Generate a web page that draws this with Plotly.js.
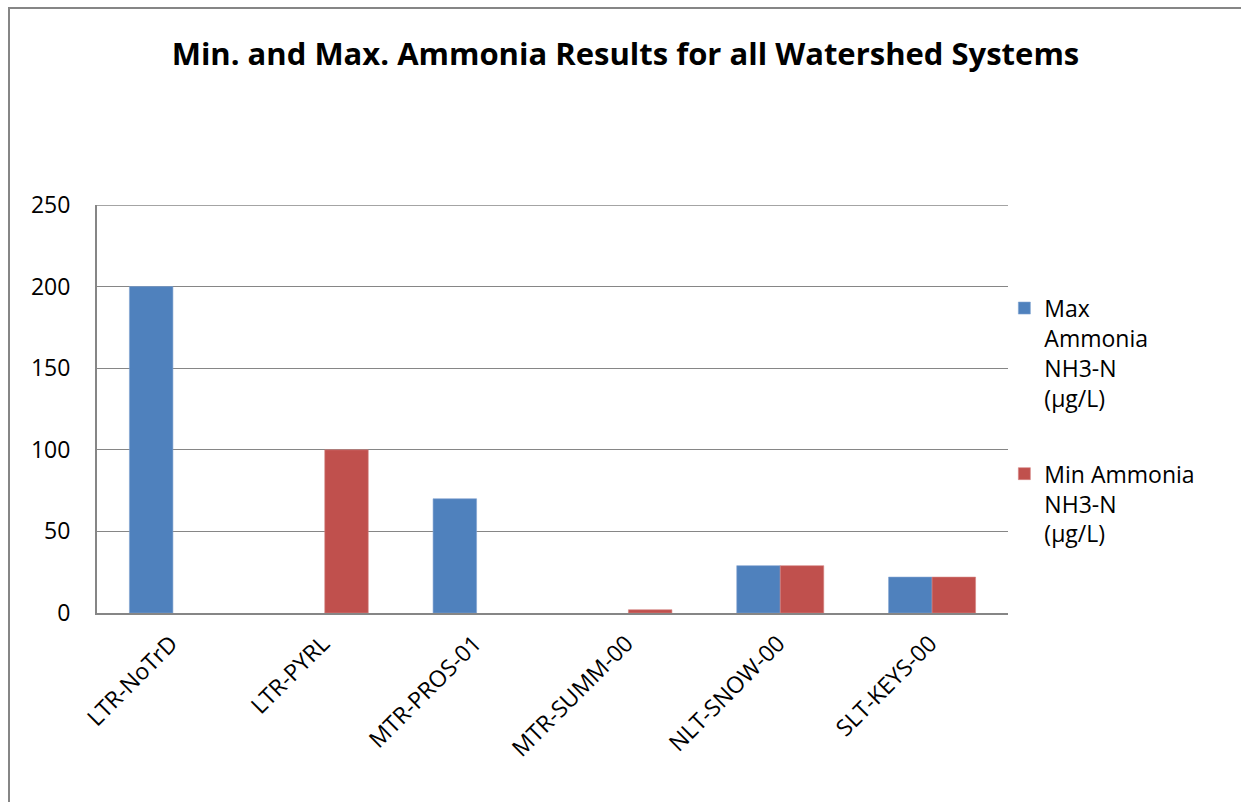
<!DOCTYPE html>
<html>
<head>
<meta charset="utf-8">
<script src="https://cdn.plot.ly/plotly-3.0.1.min.js"></script>
<style>
html,body{margin:0;padding:0;background:#fff;overflow:hidden;}
#wrap{position:relative;width:1241px;height:802px;overflow:hidden;}
#chart{width:1241px;height:802px;}
#frame{position:absolute;left:8px;top:7px;width:1400px;height:1000px;border-top:2px solid #868686;border-left:2px solid #868686;pointer-events:none;}
</style>
</head>
<body>
<div id="wrap">
<div id="chart"></div>
<div id="frame"></div>
</div>
<script>
const categories = ["LTR-NoTrD", "LTR-PYRL", "MTR-PROS-01", "MTR-SUMM-00", "NLT-SNOW-00", "SLT-KEYS-00"];
const maxAmmonia = [200, null, 70, null, 29, 22];
const minAmmonia = [null, 100, null, 2, 29, 22];
const seriesNames = ["Max<br>Ammonia<br>NH3-N<br>(µg/L)", "Min Ammonia<br>NH3-N<br>(µg/L)"];
const yTicks = [0, 50, 100, 150, 200, 250];

const font = "Open Sans, Noto Sans, sans-serif";

const traces = [
  {type: "bar", x: categories, y: maxAmmonia, name: seriesNames[0], legendgroup: "a",
   marker: {color: "#4F81BD", line: {color: "#7FA3D0", width: 0.6}}},
  {type: "bar", x: categories, y: minAmmonia, name: seriesNames[1], legendgroup: "b",
   marker: {color: "#C0504D", line: {color: "#D58583", width: 0.6}}}
];

const layout = {
  width: 1241, height: 802,
  margin: {l: 97, r: 233, t: 205, b: 189, pad: 0},
  paper_bgcolor: "#ffffff", plot_bgcolor: "#ffffff",
  font: {family: font, color: "#000000", size: 22},
  title: {text: "<b>Min. and Max. Ammonia Results for all Watershed Systems</b>",
          font: {family: font, size: 31, color: "#000000"},
          x: 0.504, xref: "container", xanchor: "center",
          y: 0.933, yref: "container", yanchor: "middle"},
  barmode: "group", bargap: 0.427, bargroupgap: 0,
  showlegend: true,
  legend: {x: 0.996, xanchor: "left", y: 0.80, yanchor: "top",
           valign: "top", traceorder: "grouped", tracegroupgap: 43,
           font: {family: font, size: 23, color: "#000000"},
           bgcolor: "rgba(0,0,0,0)"},
  xaxis: {type: "category", tickangle: -45, showgrid: false, zeroline: false,
          showline: true, linecolor: "#868686", linewidth: 2,
          ticks: "outside", ticklen: 6, tickcolor: "rgba(0,0,0,0)",
          ticklabelshift: -2,
          tickfont: {family: font, size: 23, color: "#000000"}},
  yaxis: {range: [0, 250], tickvals: yTicks, ticktext: yTicks.map(String),
          showgrid: true, gridcolor: "#868686", gridwidth: 1.3, zeroline: false,
          showline: true, linecolor: "#868686", linewidth: 2,
          ticks: "outside", ticklen: 20, tickcolor: "rgba(0,0,0,0)",
          tickfont: {family: font, size: 23, color: "#000000"}},
  shapes: [
    {type: "line", xref: "paper", yref: "y", x0: 0, x1: 1, y0: 250, y1: 250,
     line: {color: "#868686", width: 1.3}, layer: "below"}
  ]
};

Plotly.newPlot("chart", traces, layout, {displayModeBar: false, staticPlot: true});
</script>
</body>
</html>
